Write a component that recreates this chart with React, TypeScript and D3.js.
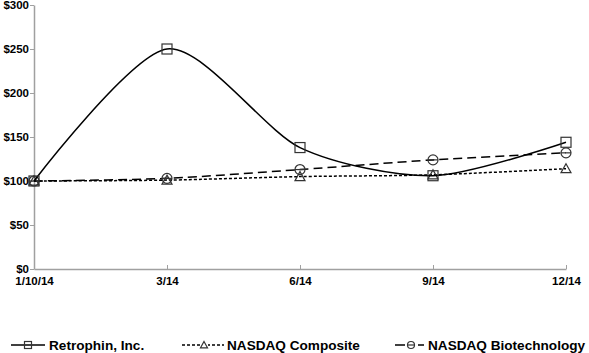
import React, { useEffect, useRef } from "react";
import * as d3 from "d3";

const dates = ["1/10/14", "3/14", "6/14", "9/14", "12/14"];
const retrophin = [100, 250, 138, 106, 144];
const composite = [100, 101, 105, 107, 114];
const biotech = [100, 103, 113, 124, 132];
const yTicks = [0, 50, 100, 150, 200, 250, 300];

const series = [
  { name: "Retrophin, Inc.", values: retrophin, dash: "", marker: "square" },
  { name: "NASDAQ Composite", values: composite, dash: "3,2", marker: "triangle" },
  { name: "NASDAQ Biotechnology", values: biotech, dash: "9,5", marker: "circle" },
];

const App: React.FC = () => {
  const svgRef = useRef<SVGSVGElement | null>(null);

  useEffect(() => {
    const svg = d3.select(svgRef.current);
    svg.selectAll("*").remove();

    const w = 589;
    const h = 353;
    const m = { top: 5, right: 23, bottom: 85, left: 34 };
    const font = "Liberation Sans, Arial, sans-serif";

    const x = d3.scalePoint().domain(dates).range([m.left, w - m.right]);
    const y = d3.scaleLinear().domain([0, 300]).range([h - m.bottom + 1, m.top]);

    svg.attr("width", w).attr("height", h).style("display", "block").style("background", "#fff");

    // y axis
    const yAxis = svg.append("g")
      .attr("transform", `translate(${m.left},0)`)
      .call(d3.axisLeft(y).tickValues(yTicks).tickSize(4).tickSizeOuter(0).tickFormat(d => `$${d}`));
    yAxis.select(".domain").attr("stroke", "#a0a0a0").attr("stroke-width", 1.5);
    yAxis.selectAll(".tick line").attr("stroke", "#a0a0a0");
    yAxis.selectAll(".tick text")
      .attr("font-family", font)
      .attr("font-weight", "bold").attr("font-size", 11.5).attr("fill", "#000").attr("x", -5);

    // x axis
    const xAxis = svg.append("g")
      .attr("transform", `translate(0,${y(0)})`)
      .call(d3.axisBottom(x).tickSize(-4).tickSizeOuter(0));
    xAxis.select(".domain").attr("stroke", "#a0a0a0").attr("stroke-width", 1.5);
    xAxis.selectAll(".tick line").attr("stroke", "#a0a0a0");
    xAxis.selectAll(".tick text")
      .attr("font-family", font)
      .attr("font-weight", "bold").attr("font-size", 11.5).attr("fill", "#000").attr("y", 8);

    const line = d3.line<number>()
      .x((_, i) => x(dates[i])!)
      .y(d => y(d))
      .curve(d3.curveCardinal.tension(0.2));

    const drawMarker = (g: d3.Selection<SVGGElement, unknown, null, undefined>, type: string, cx: number, cy: number, r: number) => {
      if (type === "square") {
        g.append("rect").attr("x", cx - r).attr("y", cy - r).attr("width", 2 * r).attr("height", 2 * r)
          .attr("fill", "none").attr("stroke", "#333").attr("stroke-width", 1.2);
      } else if (type === "triangle") {
        g.append("path").attr("d", `M${cx},${cy - r}L${cx + r},${cy + r * 0.8}L${cx - r},${cy + r * 0.8}Z`)
          .attr("fill", "none").attr("stroke", "#333").attr("stroke-width", 1.2);
      } else {
        g.append("circle").attr("cx", cx).attr("cy", cy).attr("r", r)
          .attr("fill", "none").attr("stroke", "#333").attr("stroke-width", 1.2);
        g.append("line").attr("x1", cx - r).attr("x2", cx + r).attr("y1", cy).attr("y2", cy)
          .attr("stroke", "#333").attr("stroke-width", 1.2);
      }
    };

    // lines (draw in reverse so Retrophin on top)
    [...series].reverse().forEach(s => {
      svg.append("path")
        .datum(s.values)
        .attr("d", line)
        .attr("fill", "none")
        .attr("stroke", "#000")
        .attr("stroke-width", 1.5)
        .attr("stroke-dasharray", s.dash || null);
      const g = svg.append("g");
      s.values.forEach((v, i) => drawMarker(g, s.marker, x(dates[i])!, y(v), 5));
    });

    // legend
    const legendY = 345;
    const legendItems = [
      { x0: 11, x1: 45, mx: 28, tx: 49 },
      { x0: 182, x1: 224, mx: 204, tx: 227 },
      { x0: 395, x1: 424, mx: 411, tx: 428 },
    ];
    series.forEach((s, i) => {
      const li = legendItems[i];
      const g = svg.append("g");
      if (i === 2) {
        g.append("line").attr("x1", li.x0).attr("x2", li.x0 + 10).attr("y1", legendY).attr("y2", legendY)
          .attr("stroke", "#000").attr("stroke-width", 1.5);
        g.append("line").attr("x1", li.x1 - 6).attr("x2", li.x1).attr("y1", legendY).attr("y2", legendY)
          .attr("stroke", "#000").attr("stroke-width", 1.5);
      } else {
        g.append("line").attr("x1", li.x0).attr("x2", li.x1).attr("y1", legendY).attr("y2", legendY)
          .attr("stroke", "#000").attr("stroke-width", 1.5).attr("stroke-dasharray", s.dash || null);
      }
      if (i === 1) {
        g.append("rect").attr("x", li.mx - 4).attr("y", legendY - 4).attr("width", 8).attr("height", 8).attr("fill", "#fff");
      }
      drawMarker(g, s.marker, li.mx, legendY, 3.5);
      g.append("text").attr("x", li.tx).attr("y", legendY + 4.5)
        .attr("font-family", font)
        .attr("font-weight", "bold").attr("font-size", 13.6).attr("fill", "#000")
        .text(s.name);
    });
  }, []);

  return (
    <div style={{ position: "absolute", left: 0, top: 0 }}>
      <svg ref={svgRef}></svg>
    </div>
  );
};

export default App;
